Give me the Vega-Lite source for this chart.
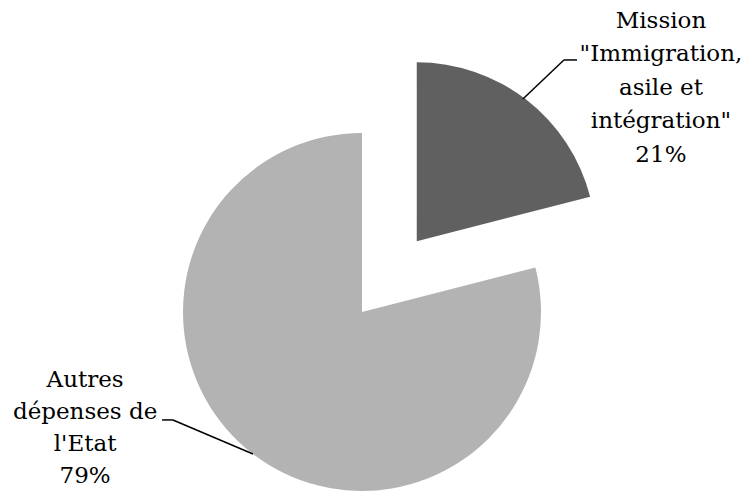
{
  "$schema": "https://vega.github.io/schema/vega-lite/v6.json",
  "width": 747,
  "height": 491,
  "autosize": {"type": "fit", "contains": "padding"},
  "padding": 0,
  "background": "white",
  "config": {"view": {"stroke": null}},
  "data": {
    "values": [
      {"slice": "Mission", "label": "Mission\n\"Immigration,\nasile et\nintégration\"\n21%", "value": 21},
      {"slice": "Autres", "label": "Autres\ndépenses de\nl'Etat\n79%", "value": 79}
    ]
  },
  "transform": [
    {"stack": "value", "groupby": [], "sort": [{"field": "value", "order": "ascending"}], "as": ["v0", "v1"]}
  ],
  "layer": [
    {
      "transform": [{"filter": "datum.slice === 'Autres'"}],
      "mark": {"type": "arc", "outerRadius": 179, "color": "#b3b3b3"},
      "encoding": {
        "theta": {"field": "v0", "type": "quantitative", "scale": {"domain": [0, 100]}},
        "theta2": {"field": "v1"},
        "x": {"datum": 0, "type": "quantitative", "scale": {"domain": [-2.0223, 2.1508], "nice": false, "zero": false}, "axis": null},
        "y": {"datum": 0, "type": "quantitative", "scale": {"domain": [-1.0, 1.743], "nice": false, "zero": false}, "axis": null}
      }
    },
    {
      "transform": [{"filter": "datum.slice === 'Mission'"}],
      "mark": {"type": "arc", "outerRadius": 179, "color": "#606060"},
      "encoding": {
        "theta": {"field": "v0", "type": "quantitative"},
        "theta2": {"field": "v1"},
        "x": {"datum": 0.306, "type": "quantitative"},
        "y": {"datum": 0.395, "type": "quantitative"}
      }
    },
    {
      "transform": [{"filter": "datum.slice === 'Mission'"}],
      "mark": {"type": "rule", "color": "#000000", "strokeWidth": 1.5},
      "encoding": {
        "x": {"datum": 0.899, "type": "quantitative"},
        "y": {"datum": 1.190, "type": "quantitative"},
        "x2": {"datum": 1.128},
        "y2": {"datum": 1.408}
      }
    },
    {
      "transform": [{"filter": "datum.slice === 'Mission'"}],
      "mark": {"type": "rule", "color": "#000000", "strokeWidth": 1.5},
      "encoding": {
        "x": {"datum": 1.128, "type": "quantitative"},
        "y": {"datum": 1.408, "type": "quantitative"},
        "x2": {"datum": 1.201},
        "y2": {"datum": 1.408}
      }
    },
    {
      "transform": [{"filter": "datum.slice === 'Autres'"}],
      "mark": {"type": "rule", "color": "#000000", "strokeWidth": 1.5},
      "encoding": {
        "x": {"datum": -1.117, "type": "quantitative"},
        "y": {"datum": -0.603, "type": "quantitative"},
        "x2": {"datum": -1.056},
        "y2": {"datum": -0.603}
      }
    },
    {
      "transform": [{"filter": "datum.slice === 'Autres'"}],
      "mark": {"type": "rule", "color": "#000000", "strokeWidth": 1.5},
      "encoding": {
        "x": {"datum": -1.056, "type": "quantitative"},
        "y": {"datum": -0.603, "type": "quantitative"},
        "x2": {"datum": -0.609},
        "y2": {"datum": -0.793}
      }
    },
    {
      "transform": [{"filter": "datum.slice === 'Mission'"}],
      "mark": {"type": "text", "font": "DejaVu Serif", "fontSize": 23, "lineBreak": "\n", "lineHeight": 33.5, "align": "center", "baseline": "alphabetic", "color": "#000000"},
      "encoding": {
        "text": {"field": "label", "type": "nominal"},
        "x": {"datum": 1.670, "type": "quantitative"},
        "y": {"datum": 1.587, "type": "quantitative"}
      }
    },
    {
      "transform": [{"filter": "datum.slice === 'Autres'"}],
      "mark": {"type": "text", "font": "DejaVu Serif", "fontSize": 23, "lineBreak": "\n", "lineHeight": 32, "align": "center", "baseline": "alphabetic", "color": "#000000"},
      "encoding": {
        "text": {"field": "label", "type": "nominal"},
        "x": {"datum": -1.547, "type": "quantitative"},
        "y": {"datum": -0.419, "type": "quantitative"}
      }
    }
  ]
}
